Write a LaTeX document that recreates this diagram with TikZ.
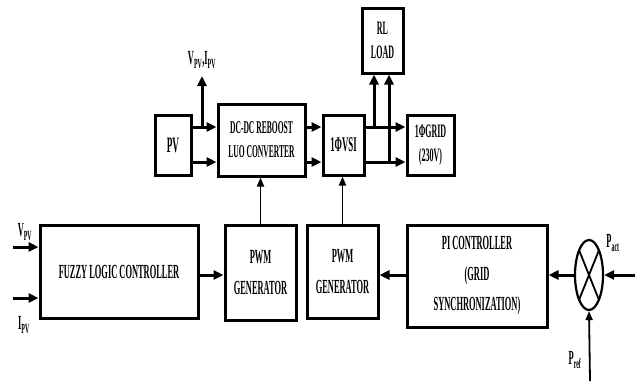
\documentclass[tikz,border=0pt]{standalone}
\usepackage{fontspec}
\setmainfont[FakeStretch=0.42]{Liberation Serif}
\usetikzlibrary{arrows.meta,shapes.geometric,calc}
\begin{document}
\begin{tikzpicture}[x=1pt,y=-1pt,
  blk/.style={draw,line width=3pt,inner sep=0pt,align=center,font=\bfseries\fontsize{20}{31}\selectfont},
  arr/.style={line width=3pt,-{Triangle[length=10pt,width=9pt]}},
  thinarr/.style={line width=1.8pt,-{Triangle[length=9pt,width=7pt]}},
  lbl/.style={inner sep=0pt,font=\bfseries\fontsize{20}{22}\selectfont}]
\useasboundingbox (0,0) rectangle (635,381);
% top row
\node[blk,minimum width=36pt,minimum height=60pt,font=\bfseries\fontsize{22}{26}\selectfont] (pv) at (173,145) {PV};
\node[blk,minimum width=87pt,minimum height=72pt,font=\bfseries\fontsize{18}{24}\selectfont] (dc) at (261.5,140) {DC-DC REBOOST\\LUO CONVERTER};
\node[blk,minimum width=41pt,minimum height=60pt,font=\bfseries\fontsize{21}{26}\selectfont] (vsi) at (343.5,145) {1ΦVSI};
\node[blk,minimum width=41pt,minimum height=65pt,font=\bfseries\fontsize{19}{24}\selectfont] (rl) at (382.5,40.5) {RL\\LOAD};
\node[blk,minimum width=47pt,minimum height=60pt,font=\bfseries\fontsize{19}{24}\selectfont] (grid) at (430.5,145) {1ΦGRID\\(230V)};
% bottom row
\node[blk,minimum width=158pt,minimum height=93pt] (flc) at (119,271.5) {FUZZY LOGIC CONTROLLER};
\node[blk,minimum width=71pt,minimum height=95pt] (pwma) at (260.5,272.5) {PWM\\GENERATOR};
\node[blk,minimum width=71pt,minimum height=93pt] (pwmb) at (342.5,271.5) {PWM\\GENERATOR};
\node[blk,minimum width=140pt,minimum height=102pt,font=\bfseries\fontsize{20}{30.5}\selectfont] (pi) at (477,276) {PI CONTROLLER\\(GRID\\SYNCHRONIZATION)};
\node[draw,ellipse,line width=2.2pt,minimum width=28pt,minimum height=70pt,inner sep=0pt] (sum) at (589,275) {};
\draw[line width=1.8pt] ($(sum.center)+(-9.9,-24.7)$) -- ($(sum.center)+(9.9,24.7)$);
\draw[line width=1.8pt] ($(sum.center)+(9.9,-24.7)$) -- ($(sum.center)+(-9.9,24.7)$);
% helper coordinates
\coordinate (ra) at (0,127);
\coordinate (rb) at (0,162);
\coordinate (rc) at (0,275);
\coordinate (tap) at (202,127);
\coordinate (tapend) at (202,76);
\coordinate (ba) at (374,127);
\coordinate (bb) at (389,162);
\coordinate (vin) at (13,247);
\coordinate (iin) at (13,298);
\coordinate (pa) at (635,275);
\coordinate (pr) at (590,381);
% connectors top
\draw[arr] (pv.east|-ra) -- (dc.west|-ra);
\draw[arr] (pv.east|-rb) -- (dc.west|-rb);
\draw[arr] (tap) -- (tapend);
\draw[arr] (dc.east|-ra) -- (vsi.west|-ra);
\draw[arr] (dc.east|-rb) -- (vsi.west|-rb);
\draw[arr] (vsi.east|-ra) -- (grid.west|-ra);
\draw[arr] (vsi.east|-rb) -- (grid.west|-rb);
\draw[arr] (ba) -- (ba|-rl.south);
\draw[arr] (bb) -- (bb|-rl.south);
% verticals
\draw[thinarr] (pwma.north) -- (pwma.north|-dc.south);
\draw[thinarr] (pwmb.north) -- (pwmb.north|-vsi.south);
% bottom connectors
\draw[arr] (vin) -- (vin-|flc.west);
\draw[arr] (iin) -- (iin-|flc.west);
\draw[arr] (flc.east|-rc) -- (pwma.west|-rc);
\draw[arr] (pi.west|-rc) -- (pwmb.east|-rc);
\draw[arr] (sum.west) -- (sum.west-|pi.east);
\draw[arr] (pa) -- (sum.east);
\draw[thinarr] (pr) -- (sum.south);
% labels
\node[lbl] (lvi) at (202,60) {V\textsubscript{PV},I\textsubscript{PV}};
\node[lbl] (lv) at (25,232) {V\textsubscript{PV}};
\node[lbl] (li) at (24,325) {I\textsubscript{PV}};
\node[lbl] (lpa) at (613,243) {P\textsubscript{act}};
\node[lbl] (lpr) at (575,360) {P\textsubscript{ref}};
\end{tikzpicture}
\end{document}
